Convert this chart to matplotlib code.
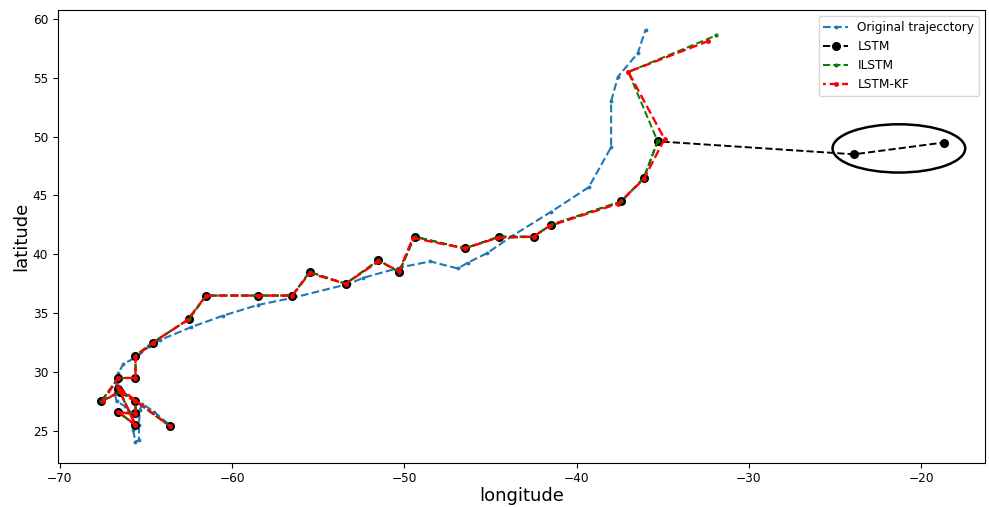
import matplotlib.pyplot as plt
import numpy as np
from matplotlib.patches import Ellipse

# original trajectory (lon, lat)
orig_lon = [-63.7, -64.5, -65.2, -65.35, -65.4, -65.4, -65.6, -65.75, -65.75, -66.2, -66.7,
            -66.8, -66.7, -66.6, -66.3, -65.5, -64.8, -64.2, -62.4, -60.5, -58.5, -56.5,
            -53.2, -52.4, -50.2, -48.5, -46.9, -46.3, -45.2, -43.7, -41.5, -39.3, -38.0,
            -38.0, -37.6, -36.45, -36.0]
orig_lat = [25.6, 26.6, 27.3, 26.8, 25.5, 24.2, 24.1, 25.1, 26.4, 27.1, 27.5,
            28.2, 29.1, 29.9, 30.7, 31.3, 32.2, 32.7, 33.8, 34.8, 35.7, 36.3,
            37.5, 38.0, 38.9, 39.4, 38.8, 39.3, 40.1, 41.6, 43.6, 45.7, 49.1,
            53.0, 55.1, 57.1, 59.1]

# LSTM predictions
lstm_lon = [-63.6, -66.6, -65.6, -66.6, -65.6, -65.6, -66.5, -67.6, -66.6, -65.6, -65.6,
            -64.6, -62.5, -61.5, -58.5, -56.5, -55.5, -53.4, -51.5, -50.3, -49.4, -46.5,
            -44.5, -42.5, -41.5, -37.4, -36.1, -35.3, -23.9, -18.7]
lstm_lat = [25.4, 28.6, 25.5, 26.6, 26.5, 27.5, 28.3, 27.5, 29.5, 29.5, 31.4,
            32.5, 34.5, 36.5, 36.5, 36.5, 38.5, 37.5, 39.5, 38.5, 41.5, 40.5,
            41.5, 41.5, 42.5, 44.5, 46.5, 49.6, 48.5, 49.5]

# ILSTM predictions
ilstm_lon = [-63.6, -66.6, -65.6, -66.6, -65.6, -65.6, -66.5, -67.6, -66.6, -65.6, -65.6,
             -64.6, -62.5, -61.5, -58.5, -56.5, -55.5, -53.4, -51.5, -50.3, -49.4, -46.5,
             -44.5, -42.5, -41.5, -37.4, -36.1, -35.3, -37.0, -31.9]
ilstm_lat = [25.4, 28.6, 25.5, 26.6, 26.5, 27.5, 28.3, 27.5, 29.5, 29.5, 31.4,
             32.5, 34.5, 36.5, 36.5, 36.5, 38.5, 37.5, 39.5, 38.5, 41.5, 40.5,
             41.5, 41.5, 42.5, 44.5, 46.5, 49.6, 55.5, 58.6]

# LSTM-KF predictions
kf_lon = [-63.6, -66.6, -65.6, -66.6, -65.6, -65.6, -66.5, -67.5, -66.6, -65.6, -65.6,
          -64.6, -62.6, -61.5, -58.5, -56.5, -55.5, -53.4, -51.5, -50.3, -49.5, -46.5,
          -44.6, -42.5, -41.6, -37.6, -36.1, -34.9, -37.0, -32.4]
kf_lat = [25.4, 28.7, 25.5, 26.6, 26.4, 27.5, 28.4, 27.5, 29.5, 29.5, 31.3,
          32.5, 34.4, 36.5, 36.5, 36.5, 38.4, 37.5, 39.4, 38.6, 41.4, 40.5,
          41.4, 41.5, 42.4, 44.3, 46.4, 49.8, 55.5, 58.1]

fig = plt.figure(figsize=(9.89, 5.07), dpi=100)
ax = fig.add_axes([0.0586, 0.0874, 0.9374, 0.8929])

ax.plot(orig_lon, orig_lat, '--', color='#1f77b4', marker='.', markersize=3.5,
        linewidth=1.5, label='Original trajecctory')
ax.plot(lstm_lon, lstm_lat, '--', color='black', marker='o', markersize=5.5,
        linewidth=1.4, label='LSTM')
ax.plot(ilstm_lon, ilstm_lat, '--', color='green', marker='.', markersize=4,
        linewidth=1.4, label='ILSTM')
ax.plot(kf_lon, kf_lat, color='red', linestyle=(2.5, (3.7, 1.6)), marker='.',
        markersize=5, linewidth=1.7, label='LSTM-KF')

ax.add_patch(Ellipse((-21.3, 49.0), 7.7, 4.1, fill=False, edgecolor='black', linewidth=1.8))

ax.set_xlim(-70.1, -16.3)
ax.set_ylim(22.3, 60.76)
ax.set_xlabel('longitude', fontsize=13, labelpad=1)
ax.set_ylabel('latitude', fontsize=13, labelpad=2)
ax.tick_params(labelsize=8.7)
ax.legend(loc='upper right', fontsize=8.7)

fig.savefig('out.png', dpi=100)
